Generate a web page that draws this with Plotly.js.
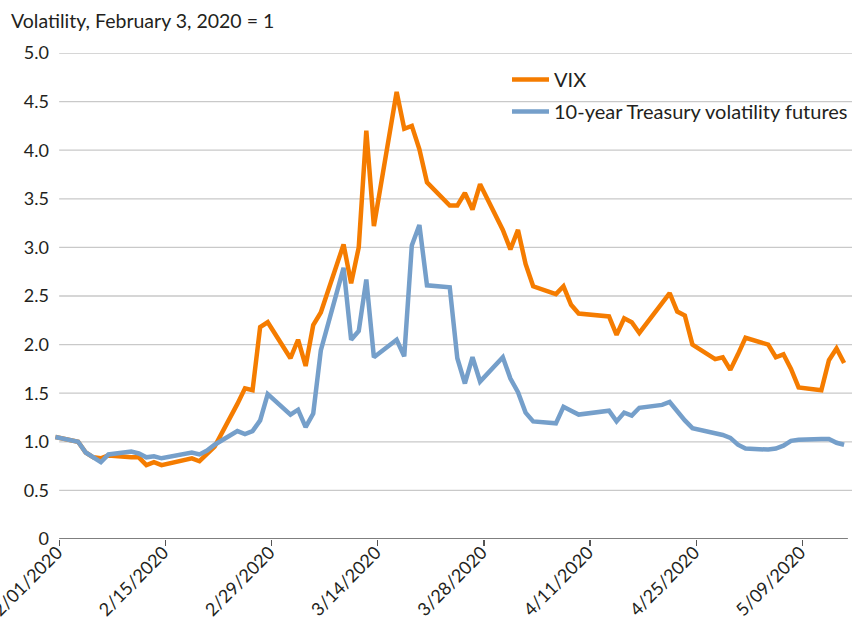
<!DOCTYPE html>
<html>
<head>
<meta charset="utf-8">
<script src="https://cdn.plot.ly/plotly-3.0.1.min.js"></script>
<style>html,body{margin:0;padding:0;background:#fff}#chart{width:852px;height:624px}</style>
</head>
<body>
<div id="chart"></div>
<script>
const dates = [
  '2020-01-31','2020-02-03','2020-02-04','2020-02-05','2020-02-06','2020-02-07',
  '2020-02-10','2020-02-11','2020-02-12','2020-02-13','2020-02-14',
  '2020-02-18','2020-02-19','2020-02-20','2020-02-21',
  '2020-02-24','2020-02-25','2020-02-26','2020-02-27','2020-02-28',
  '2020-03-02','2020-03-03','2020-03-04','2020-03-05','2020-03-06',
  '2020-03-09','2020-03-10','2020-03-11','2020-03-12','2020-03-13',
  '2020-03-16','2020-03-17','2020-03-18','2020-03-19','2020-03-20',
  '2020-03-23','2020-03-24','2020-03-25','2020-03-26','2020-03-27',
  '2020-03-30','2020-03-31','2020-04-01','2020-04-02','2020-04-03',
  '2020-04-06','2020-04-07','2020-04-08','2020-04-09',
  '2020-04-13','2020-04-14','2020-04-15','2020-04-16','2020-04-17',
  '2020-04-20','2020-04-21','2020-04-22','2020-04-23','2020-04-24',
  '2020-04-27','2020-04-28','2020-04-29','2020-04-30','2020-05-01',
  '2020-05-04','2020-05-05','2020-05-06','2020-05-07','2020-05-08',
  '2020-05-11','2020-05-12','2020-05-13','2020-05-14'
];
const vix = [
  1.05,1.00,0.89,0.84,0.83,0.86,
  0.84,0.84,0.76,0.79,0.76,
  0.83,0.80,0.87,0.95,
  1.39,1.55,1.53,2.18,2.23,
  1.86,2.05,1.78,2.20,2.33,
  3.03,2.63,3.00,4.20,3.22,
  4.60,4.22,4.25,4.01,3.67,
  3.43,3.43,3.56,3.39,3.65,
  3.18,2.98,3.18,2.83,2.60,
  2.52,2.60,2.41,2.32,
  2.29,2.10,2.27,2.23,2.12,
  2.44,2.53,2.34,2.30,2.00,
  1.85,1.87,1.74,1.90,2.07,
  2.00,1.87,1.90,1.75,1.56,
  1.53,1.84,1.96,1.81
];
const tyvol = [
  1.05,1.00,0.89,0.84,0.79,0.87,
  0.90,0.88,0.84,0.85,0.83,
  0.89,0.87,0.91,0.97,
  1.11,1.08,1.11,1.22,1.49,
  1.28,1.33,1.15,1.29,1.94,
  2.79,2.05,2.14,2.67,1.87,
  2.05,1.88,3.02,3.23,2.61,
  2.59,1.86,1.60,1.87,1.62,
  1.87,1.65,1.51,1.30,1.21,
  1.19,1.36,1.32,1.28,
  1.32,1.21,1.30,1.27,1.35,
  1.38,1.41,1.31,1.22,1.14,
  1.09,1.07,1.04,0.97,0.93,
  0.92,0.93,0.96,1.01,1.02,
  1.03,1.03,0.99,0.97
];
const tickDates = ['2020-02-01','2020-02-15','2020-02-29','2020-03-14','2020-03-28','2020-04-11','2020-04-25','2020-05-09'];
const tickLabels = ['2/01/2020','2/15/2020','2/29/2020','3/14/2020','3/28/2020','4/11/2020','4/25/2020','5/09/2020'];
const yTicks = [0,0.5,1,1.5,2,2.5,3,3.5,4,4.5,5];
const yTickLabels = ['0','0.5','1.0','1.5','2.0','2.5','3.0','3.5','4.0','4.5','5.0'];
const seriesNames = ['VIX','10-year Treasury volatility futures'];

// each trading day is drawn in the middle of its day slot (date axis "between tick marks")
const xDays = dates.map(d => d + ' 12:00');

const xStart = '2020-01-30 19:00';
const xEnd = '2020-05-15 13:00';
const font = 'Lato, "Open Sans", sans-serif';
const textColor = '#231f20';

const shapes = yTicks.filter(v => v > 0).map(v => ({
  type:'line', xref:'x', yref:'y', x0:tickDates[0], x1:xEnd, y0:v, y1:v,
  line:{color:'#c9c9c9', width:1.3}, layer:'below'
}));
shapes.push({type:'line', xref:'x', yref:'y', x0:tickDates[0], x1:'2020-05-15 00:00', y0:0, y1:0,
  line:{color:'#555555', width:1.5}, layer:'below'});

const traces = [
  {x:xDays, y:vix, name:seriesNames[0], type:'scatter', mode:'lines', legendgroup:'a',
   line:{color:'#f57c00', width:4.5, shape:'linear'}},
  {x:xDays, y:tyvol, name:seriesNames[1], type:'scatter', mode:'lines', legendgroup:'b',
   line:{color:'#759fca', width:4.5, shape:'linear'}}
];

const layout = {
  width:852, height:624,
  margin:{l:50, r:0, t:53, b:85, autoexpand:false},
  paper_bgcolor:'#fff', plot_bgcolor:'rgba(0,0,0,0)',
  font:{family:font, size:18, color:textColor},
  title:{text:'Volatility, February 3, 2020 = 1', xref:'container', yref:'container',
    x:11/852, xanchor:'left', y:1-21/624, yanchor:'middle',
    font:{family:font, size:19.5, color:textColor}},
  xaxis:{type:'date', range:[xStart, xEnd], showgrid:false, zeroline:false, showline:false,
    tickmode:'array', tickvals:tickDates, ticktext:tickLabels, tickangle:-45,
    ticklabeloverflow:'allow', ticklabelstandoff:-11, ticklabelshift:-2,
    ticks:'outside', ticklen:6, tickwidth:1.3, tickcolor:'#555555',
    tickfont:{family:font, size:18, color:textColor}},
  yaxis:{range:[0,5], showgrid:false, zeroline:false, showline:false,
    tickmode:'array', tickvals:yTicks, ticktext:yTickLabels, ticks:'',
    tickfont:{family:font, size:18, color:textColor}},
  shapes:shapes,
  showlegend:true,
  legend:{xref:'paper', yref:'paper', x:(507-50)/802, xanchor:'left', y:(539-60)/486, yanchor:'top',
    bgcolor:'rgba(0,0,0,0)', borderwidth:0, itemwidth:37, tracegroupgap:3,
    font:{family:font, size:20, color:textColor}}
};

Plotly.newPlot('chart', traces, layout, {displayModeBar:false, staticPlot:true});
</script>
</body>
</html>
